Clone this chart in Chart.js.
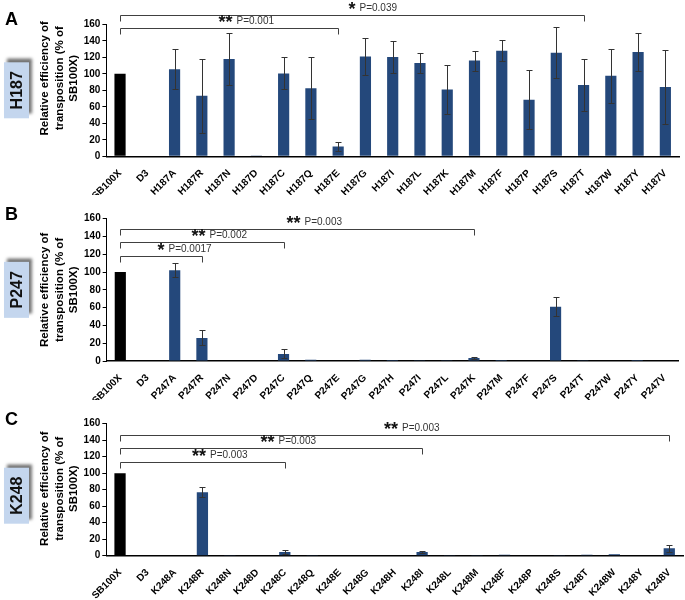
<!DOCTYPE html>
<html><head><meta charset="utf-8">
<script src="https://cdn.jsdelivr.net/npm/chart.js@4.4.1/dist/chart.umd.min.js"></script>
<style>
html,body{margin:0;padding:0;background:#fff;}
#wrap{position:relative;width:685px;height:600px;overflow:hidden;background:#fff;}
#wrap canvas{position:absolute;left:0;}
</style></head><body>
<div id="wrap">
<canvas id="cA" width="685" height="195" style="top:0px"></canvas>
<canvas id="cB" width="685" height="205" style="top:195px"></canvas>
<canvas id="cC" width="685" height="200" style="top:400px"></canvas>
</div>
<script>
// ---------- DATA ----------
const yTicks = [0, 20, 40, 60, 80, 100, 120, 140, 160];
const yTitleLines = ['Relative efficiency of', 'transposition (% of', 'SB100X)'];

const labelsA = ['SB100X','D3','H187A','H187R','H187N','H187D','H187C','H187Q','H187E','H187G','H187I','H187L','H187K','H187M','H187F','H187P','H187S','H187T','H187W','H187Y','H187V'];
const valuesA = [100, 0, 105.5, 73.5, 118, 1, 100.5, 82.5, 12, 121, 120.5, 113, 81, 116, 128, 68.5, 125.5, 86.5, 97.5, 126.5, 84];
const errorsA = [0, 0, 24, 45, 31, 0, 19.5, 37.5, 5, 22, 19.5, 12.5, 29.5, 12, 13, 36, 31, 31, 33, 23, 45];
const bracketsA = [
  {from: 0, to: 17, level: 171.6, stars: '*',  p: 'P=0.039'},
  {from: 0, to: 8,  level: 155,   stars: '**', p: 'P=0.001'}
];

const labelsB = ['SB100X','D3','P247A','P247R','P247N','P247D','P247C','P247Q','P247E','P247G','P247H','P247I','P247L','P247K','P247M','P247F','P247S','P247T','P247W','P247Y','P247V'];
const valuesB = [100, 0, 102, 26, 0, 0, 8, 1.5, 0, 1.5, 1, 0.8, 0.8, 3.5, 1, 0, 61, 0.8, 0, 1, 0];
const errorsB = [0, 0, 8, 8.5, 0, 0, 5, 0, 0, 0, 0, 0, 0, 1.2, 0, 0, 10.5, 0, 0, 0, 0];
const bracketsB = [
  {from: 0, to: 13, level: 148, stars: '**', p: 'P=0.003'},
  {from: 0, to: 6,  level: 133.5, stars: '**', p: 'P=0.002'},
  {from: 0, to: 3,  level: 118.5, stars: '*',  p: 'P=0.0017'}
];

const labelsC = ['SB100X','D3','K248A','K248R','K248N','K248D','K248C','K248Q','K248E','K248G','K248H','K248I','K248L','K248M','K248F','K248P','K248S','K248T','K248W','K248Y','K248V'];
const valuesC = [100, 0.5, 0.5, 77, 0.8, 0, 4.5, 1, 0.5, 0, 0, 4.4, 0.8, 1, 1.2, 0.5, 1, 1.3, 1.8, 0, 9];
const errorsC = [0, 0, 0, 6, 0, 0, 2, 0, 0, 0, 0, 0.8, 0, 0, 0, 0, 0, 0, 0, 0, 4.5];
const bracketsC = [
  {from: 0, to: 20, level: 145.7, stars: '**', p: 'P=0.003'},
  {from: 0, to: 11, level: 130.2, stars: '**', p: 'P=0.003'},
  {from: 0, to: 6,  level: 113.2, stars: '**', p: 'P=0.003'}
];

// ---------- STYLE ----------
const FONT = "'Liberation Sans', Arial, Helvetica, sans-serif";
const NAVY = '#24487b';

const annot = {
  id: 'annot',
  afterDatasetsDraw(chart, args, o) {
    const ctx = chart.ctx, xs = chart.scales.x, ys = chart.scales.y;
    ctx.save();
    // error bars
    ctx.strokeStyle = '#333';
    ctx.lineWidth = 1;
    o.values.forEach((v, i) => {
      const e = o.errors[i];
      if (!e) return;
      const x = Math.round(xs.getPixelForValue(i)) + 0.5;
      const y1 = Math.round(ys.getPixelForValue(v + e)) + 0.5;
      const y2 = Math.round(ys.getPixelForValue(Math.max(v - e, 0))) + 0.5;
      ctx.beginPath();
      ctx.moveTo(x, y1); ctx.lineTo(x, y2);
      ctx.moveTo(x - 3, y1); ctx.lineTo(x + 3, y1);
      ctx.moveTo(x - 3, y2); ctx.lineTo(x + 3, y2);
      ctx.stroke();
    });
    // brackets
    o.brackets.forEach(b => {
      const x0 = Math.round(xs.getPixelForValue(b.from)) + 0.5;
      const x1 = Math.round(xs.getPixelForValue(b.to)) + 0.5;
      const y = Math.round(ys.getPixelForValue(b.level)) + 0.5;
      ctx.strokeStyle = '#404040';
      ctx.lineWidth = 1;
      ctx.beginPath();
      ctx.moveTo(x0, y + 6); ctx.lineTo(x0, y); ctx.lineTo(x1, y); ctx.lineTo(x1, y + 6);
      ctx.stroke();
      const cx = (x0 + x1) / 2;
      const ly = y - 7;
      ctx.fillStyle = '#111';
      ctx.font = 'bold 18px ' + FONT;
      ctx.textAlign = 'right';
      ctx.textBaseline = 'alphabetic';
      ctx.fillText(b.stars, cx + 3, ly + 6.5);
      ctx.fillStyle = '#333';
      ctx.font = '10px ' + FONT;
      ctx.textAlign = 'left';
      ctx.textBaseline = 'middle';
      ctx.fillText(b.p, cx + 7, ly);
    });
    ctx.restore();
  },
  afterDraw(chart, args, o) {
    const ctx = chart.ctx, ca = chart.chartArea;
    const cy = (ca.top + ca.bottom) / 2;
    ctx.save();
    // panel letter
    ctx.fillStyle = '#000';
    ctx.font = 'bold 18px ' + FONT;
    ctx.textAlign = 'left';
    ctx.textBaseline = 'middle';
    ctx.fillText(o.letter, 5, ca.top - 4);
    // side box
    const bw = 25, bh = 56, bx = 4, by = cy + o.boxShift - bh / 2;
    ctx.save();
    ctx.shadowColor = 'rgba(0,0,0,0.55)';
    ctx.shadowBlur = 3;
    ctx.shadowOffsetX = 3;
    ctx.shadowOffsetY = -4;
    ctx.fillStyle = '#c4d6ee';
    ctx.fillRect(bx, by, bw, bh);
    ctx.restore();
    ctx.save();
    ctx.translate(bx + bw / 2 + 0.5, by + bh / 2);
    ctx.rotate(-Math.PI / 2);
    ctx.fillStyle = '#111';
    ctx.font = 'bold 16px ' + FONT;
    ctx.textAlign = 'center';
    ctx.textBaseline = 'middle';
    ctx.fillText(o.box, 0, 1);
    ctx.restore();
    // y title
    const xsT = [44.5, 59.5, 74];
    yTitleLines.forEach((t, i) => {
      ctx.save();
      ctx.translate(xsT[i], cy + o.titleShift);
      ctx.rotate(-Math.PI / 2);
      ctx.fillStyle = '#000';
      ctx.font = 'bold 11.5px ' + FONT;
      ctx.textAlign = 'center';
      ctx.textBaseline = 'middle';
      ctx.fillText(t, 0, 0);
      ctx.restore();
    });
    ctx.restore();
  }
};

function makeChart(id, labels, values, errors, brackets, cfg) {
  return new Chart(document.getElementById(id), {
    type: 'bar',
    data: {
      labels: labels,
      datasets: [{
        data: values,
        backgroundColor: labels.map((l, i) => i === 0 ? '#000' : NAVY),
        borderWidth: 0,
        barPercentage: 0.41,
        categoryPercentage: 1
      }]
    },
    options: {
      responsive: false,
      animation: false,
      devicePixelRatio: 1,
      layout: {padding: {top: cfg.top, right: cfg.right, left: 0, bottom: 0}},
      plugins: {
        legend: {display: false},
        tooltip: {enabled: false},
        annot: {values: values, errors: errors, brackets: brackets, letter: cfg.letter, box: cfg.box, boxShift: cfg.boxShift, titleShift: cfg.titleShift}
      },
      scales: {
        x: {
          offset: true,
          grid: {display: false},
          border: {display: true, color: '#000', width: 1.5},
          ticks: {autoSkip: false, minRotation: 45, maxRotation: 45, padding: 3, color: '#000', font: {family: FONT, size: 10, weight: 'bold'}},
          afterFit: s => { s.height = cfg.xh; }
        },
        y: {
          min: 0, max: 160,
          afterBuildTicks: s => { s.ticks = yTicks.map(v => ({value: v})); },
          grid: {display: true, drawOnChartArea: false, drawTicks: true, tickLength: 4, color: '#000'},
          border: {display: true, color: '#000', width: 1},
          ticks: {padding: 2, color: '#000', font: {family: FONT, size: 10, weight: 'bold'}},
          afterFit: s => { s.width = cfg.yw; }
        }
      }
    },
    plugins: [annot]
  });
}

makeChart('cA', labelsA, valuesA, errorsA, bracketsA, {top: 24.3, right: 6, xh: 38.7, yw: 106.4, letter: 'A', box: 'H187', boxShift: 0, titleShift: -12});
makeChart('cB', labelsB, valuesB, errorsB, bracketsB, {top: 23.7, right: 7, xh: 39, yw: 106.7, letter: 'B', box: 'P247', boxShift: 0, titleShift: 0});
makeChart('cC', labelsC, valuesC, errorsC, bracketsC, {top: 23.7, right: 2, xh: 44.3, yw: 106.3, letter: 'C', box: 'K248', boxShift: 6, titleShift: -1});
</script>
</body></html>
